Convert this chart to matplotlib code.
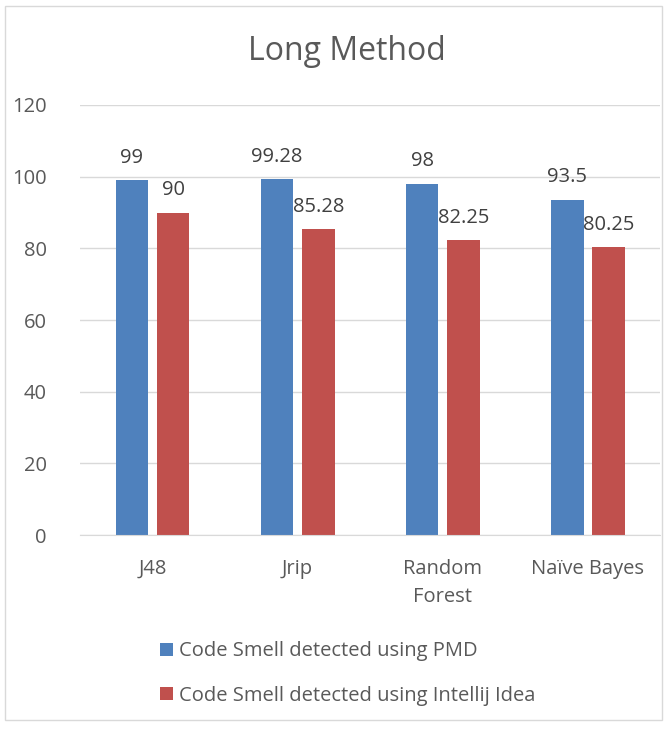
import numpy as np
import matplotlib.pyplot as plt
from matplotlib.patches import Rectangle

plt.rcParams['font.family'] = ['Open Sans', 'DejaVu Sans']

categories = ['J48', 'Jrip', 'Random\nForest', 'Naïve Bayes']
pmd = [99, 99.28, 98, 93.5]
intellij = [90, 85.28, 82.25, 80.25]
pmd_labels = ['99', '99.28', '98', '93.5']
intellij_labels = ['90', '85.28', '82.25', '80.25']
series_names = ['Code Smell detected using PMD',
                'Code Smell detected using Intellij Idea']

blue = '#4f81bd'
red = '#c0504d'
text_col = '#595959'

fig = plt.figure(figsize=(6.67, 7.29), dpi=100)
fig.patches.append(Rectangle((0.008, 0.012), 0.984, 0.98, transform=fig.transFigure,
                             fill=False, edgecolor='#d9d9d9', linewidth=1))
ax = fig.add_axes([0.12, 0.266, 0.87, 0.59])

x = np.arange(len(categories))
w = 0.225
b1 = ax.bar(x - 0.142, pmd, w, color=blue, label=series_names[0])
b2 = ax.bar(x + 0.142, intellij, w, color=red, label=series_names[1])

for bars, labs in ((b1, pmd_labels), (b2, intellij_labels)):
    for rect, lab in zip(bars, labs):
        ax.text(rect.get_x() + rect.get_width() / 2, rect.get_height() + 3.5, lab,
                ha='center', va='bottom', fontsize=14.5, color='#404040')

ax.set_xlim(-0.5, 3.5)
ax.set_ylim(0, 120)
ax.set_yticks(range(0, 121, 20))
ax.yaxis.grid(True, color='#d9d9d9', linewidth=1)
ax.set_axisbelow(True)
for s in ['top', 'right', 'left']:
    ax.spines[s].set_visible(False)
ax.spines['bottom'].set_color('#d9d9d9')
ax.tick_params(axis='both', length=0, labelsize=14.5, colors=text_col, pad=17)
ax.tick_params(axis='y', pad=24)
ax.set_xticks(x)
ax.set_xticklabels(categories, linespacing=1.55)

fig.text(0.52, 0.93, 'Long Method', ha='center', va='center', fontsize=23, color=text_col)

fig.legend(handles=[b1, b2], loc='upper left', bbox_to_anchor=(0.212, 0.145),
           frameon=False, fontsize=14.5, labelcolor=text_col, handlelength=0.65,
           handleheight=0.65, handletextpad=0.3, labelspacing=1.2)

fig.savefig('out.png', dpi=100)
